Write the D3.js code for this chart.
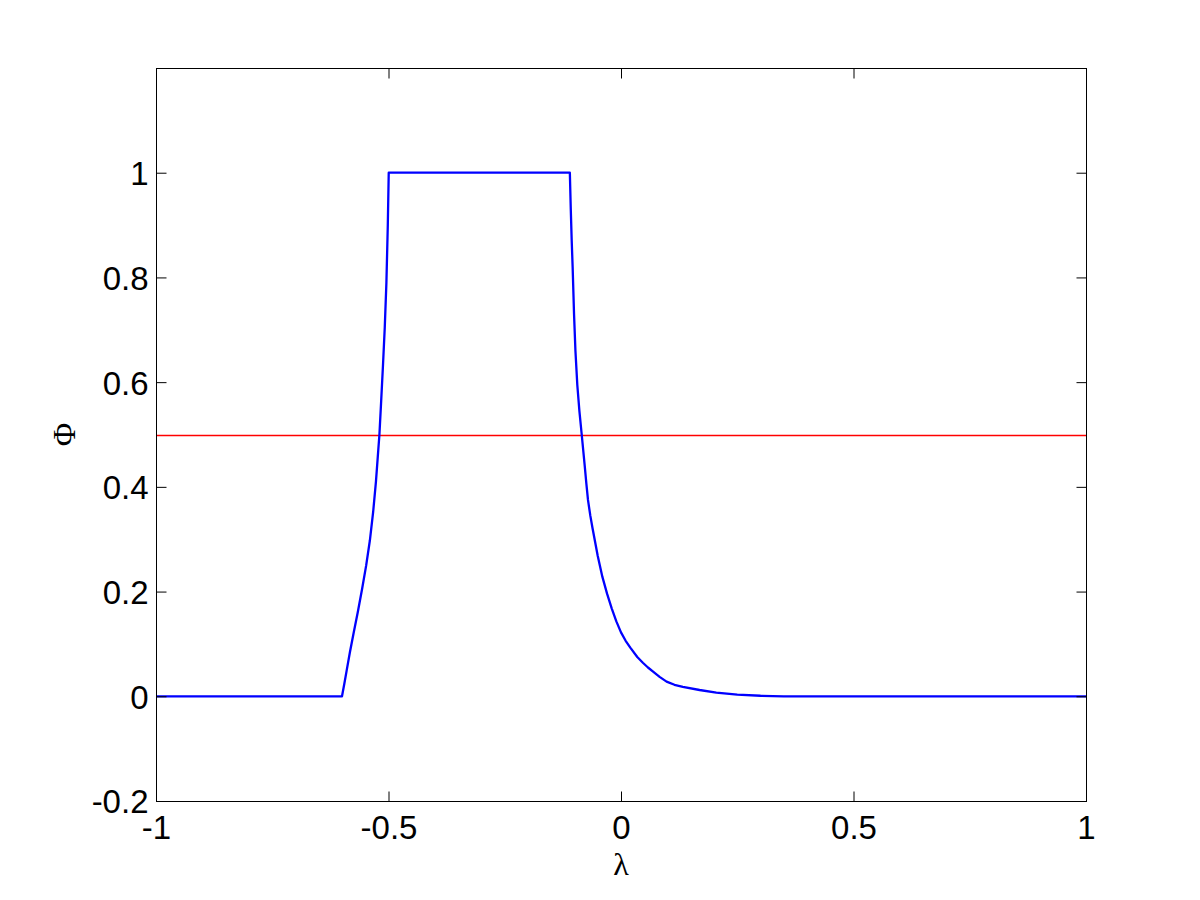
<!DOCTYPE html>
<html>
<head>
<meta charset="utf-8">
<script src="https://cdn.jsdelivr.net/npm/d3@7"></script>
<style>
  html, body { margin: 0; padding: 0; background: #fff; }
  svg { display: block; }
</style>
</head>
<body>
<svg id="chart" width="1200" height="900"></svg>
<script>
// Data
const lambdaValues = [-1, -0.600, -0.595, -0.590, -0.583, -0.575, -0.566, -0.557, -0.548, -0.540, -0.533, -0.527, -0.522, -0.5195,
  -0.516, -0.512, -0.508, -0.5045, -0.5015, -0.4995,
  -0.110, -0.108, -0.106, -0.104, -0.101, -0.098, -0.094, -0.0895, -0.0845, -0.078, -0.0745, -0.071, -0.066, -0.061, -0.050, -0.040, -0.030,
  -0.020, -0.010, 0.000, 0.010, 0.020, 0.035, 0.047, 0.058, 0.069, 0.083, 0.098, 0.115, 0.133, 0.169, 0.205, 0.250, 0.300, 0.350, 1];
const phiValues = [0, 0, 0.024, 0.049, 0.084, 0.121, 0.161, 0.204, 0.250, 0.298, 0.352, 0.410, 0.470, 0.500,
  0.560, 0.630, 0.705, 0.790, 0.900, 1.0,
  1.0, 0.930, 0.870, 0.820, 0.730, 0.660, 0.595, 0.545, 0.500, 0.440, 0.406, 0.375, 0.345, 0.320, 0.268, 0.228, 0.196,
  0.168, 0.143, 0.122, 0.106, 0.093, 0.075, 0.064, 0.055, 0.047, 0.037, 0.028, 0.022, 0.018, 0.012, 0.007, 0.003, 0.001, 0, 0];
const thresholdValue = [0.5];
const xTicks = [-1, -0.5, 0, 0.5, 1];
const yTicks = [-0.2, 0, 0.2, 0.4, 0.6, 0.8, 1];
const xLabel = "λ";
const yLabel = "Φ";

const svg = d3.select("#chart");
const L = 156, R = 1086, T = 68, B = 801;
const x = d3.scaleLinear().domain([-1, 1]).range([L, R]);
const y = d3.scaleLinear().domain([-0.2, 1.2]).range([B, T]);
const tickLen = 10;
const font = "'Liberation Sans', Arial, sans-serif";
const serif = "'Liberation Serif', 'Times New Roman', serif";
const fmt = d => String(Math.round(d * 10) / 10);

svg.append("defs").append("clipPath").attr("id", "clip")
  .append("rect").attr("x", L).attr("y", T).attr("width", R - L).attr("height", B - T);

const plot = svg.append("g").attr("clip-path", "url(#clip)");

// red threshold line
plot.selectAll("line.thr").data(thresholdValue).enter().append("line")
  .attr("class", "thr")
  .attr("x1", x(-1)).attr("x2", x(1))
  .attr("y1", d => Math.round(y(d)) + 0.5).attr("y2", d => Math.round(y(d)) + 0.5)
  .attr("stroke", "rgb(255,0,0)").attr("stroke-width", 1.5);

// blue curve
const pts = lambdaValues.map((l, i) => [l, phiValues[i]]);
plot.append("path").datum(pts)
  .attr("d", d3.line().x(d => x(d[0])).y(d => y(d[1])))
  .attr("fill", "none").attr("stroke", "#0000ff").attr("stroke-width", 2.3)
  .attr("stroke-linejoin", "round");

// Axes with inward ticks (box on all 4 sides)
const axB = svg.append("g").attr("transform", `translate(0,${B + 0.5})`)
  .call(d3.axisBottom(x).tickValues(xTicks).tickSizeInner(-tickLen).tickSizeOuter(0).tickPadding(14).tickFormat(fmt));
const axT = svg.append("g").attr("transform", `translate(0,${T + 0.5})`)
  .call(d3.axisTop(x).tickValues(xTicks).tickSizeInner(-tickLen).tickSizeOuter(0).tickFormat(""));
const axL = svg.append("g").attr("transform", `translate(${L + 0.5},0)`)
  .call(d3.axisLeft(y).tickValues(yTicks).tickSizeInner(-tickLen).tickSizeOuter(0).tickPadding(8).tickFormat(fmt));
const axR = svg.append("g").attr("transform", `translate(${R + 0.5},0)`)
  .call(d3.axisRight(y).tickValues(yTicks).tickSizeInner(-tickLen).tickSizeOuter(0).tickFormat(""));

[axB, axT, axL, axR].forEach(a => {
  a.select(".domain").remove();
  a.selectAll(".tick line").attr("stroke", "#000").attr("stroke-width", 1);
  a.selectAll(".tick text").attr("fill", "#000").style("font-family", font).style("font-size", "33px");
});
axL.selectAll(".tick text").attr("dy", "0.36em");
axB.selectAll(".tick text").attr("dy", "0.71em");

// Box border
svg.append("rect").attr("x", L + 0.5).attr("y", T + 0.5).attr("width", R - L).attr("height", B - T)
  .attr("fill", "none").attr("stroke", "#000").attr("stroke-width", 1);

// Axis labels
svg.append("text").attr("x", (L + R) / 2).attr("y", 875).attr("text-anchor", "middle")
  .style("font-family", serif).style("font-size", "32px").attr("fill", "#000").text(xLabel);
svg.append("text").attr("transform", `translate(75,${(T + B) / 2}) rotate(-90)`).attr("text-anchor", "middle")
  .style("font-family", serif).style("font-size", "32px").attr("fill", "#000").text(yLabel);
</script>
</body>
</html>
